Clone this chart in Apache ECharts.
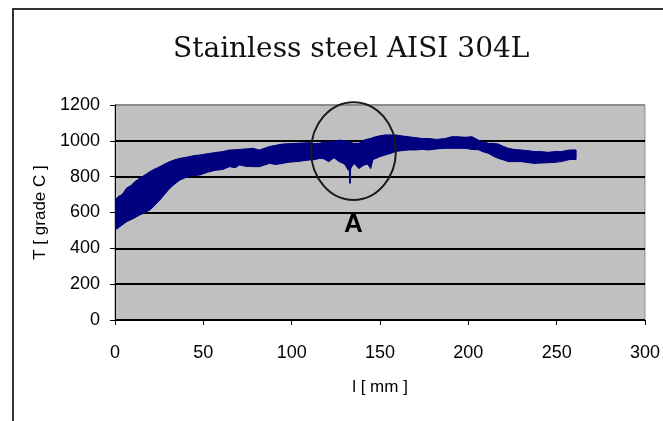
<!DOCTYPE html>
<html>
<head>
<meta charset="utf-8">
<script src="https://cdn.jsdelivr.net/npm/echarts@6/dist/echarts.min.js"></script>
<style>
  html, body { margin: 0; padding: 0; background: #fff; }
  #chart { width: 663px; height: 421px; }
</style>
</head>
<body>
<div id="chart"></div>
<script>
// position along the weld [mm]
const posMm = [
  0, 2, 4, 6.6, 9, 11, 14, 17, 19.7, 22, 25.4, 28, 31, 34, 36.7, 40, 42.3, 45, 48, 51,
  53.6, 57, 61, 64.8, 68, 70.5, 74, 78, 81.8, 85, 87.4, 91, 94.7, 98, 102.6, 106, 110, 113,
  115.6, 118, 121, 124, 126.9, 130, 132, 132.6, 133, 133.4, 135.3, 138, 141, 143, 144.7, 146,
  147.6, 150, 153, 156, 158.8, 162, 166, 170, 174, 177.6, 182, 187, 190.6, 194, 198.3, 202,
  205.8, 208, 211.5, 214, 217, 220, 222.7, 226, 230, 234, 237.8, 241, 245.3, 249, 252.6,
  255, 257.5, 261
];
// lower edge of the measured temperature band [grade C]
const tempLow = [
  502, 515, 530, 549, 560, 570, 586, 600, 614, 635, 670, 700, 735, 760, 781, 795, 804, 806, 809, 820,
  828, 836, 840, 856, 850, 865, 858, 856, 856, 866, 874, 868, 874, 880, 884, 888, 893, 895,
  902, 900, 884, 905, 884, 870, 837, 840, 763, 845, 874, 846, 865, 870, 846, 895,
  902, 912, 921, 930, 940, 945, 949, 949, 952, 949, 955, 958, 958, 958, 958, 952,
  950, 940, 930, 915, 902, 893, 884, 884, 884, 878, 874, 876, 878, 880, 884,
  890, 896, 896
];
// upper edge of the measured temperature band [grade C]
const tempHigh = [
  670, 690, 700, 737, 750, 770, 792, 810, 828, 840, 856, 870, 884, 895, 902, 908, 912, 918, 921, 926,
  930, 935, 940, 949, 950, 952, 955, 958, 949, 960, 968, 975, 982, 984, 986, 988, 990, 984,
  986, 992, 995, 995, 1004, 1000, 995, 995, 995, 990, 986, 986, 1004, 1010, 1013, 1018,
  1023, 1028, 1033, 1033, 1033, 1028, 1023, 1018, 1013, 1013, 1008, 1013, 1023, 1023, 1020, 1023,
  1004, 995, 986, 986, 982, 968, 958, 952, 949, 945, 940, 940, 936, 940, 940,
  945, 949, 949
];

const xTicks = [0, 50, 100, 150, 200, 250, 300];
const yTicks = [0, 200, 400, 600, 800, 1000, 1200];

// marked region "A"
const markA = { x: 135, y: 943, rx: 24, ry: 273, labelY: 530 };

const chart = echarts.init(document.getElementById('chart'));

const bandData = posMm.map((x, i) => [x, tempLow[i], tempHigh[i]]);

const frame = {
  type: 'rect',
  silent: true,
  shape: { x: 13, y: 9, width: 700, height: 500 },
  style: { fill: 'none', stroke: '#333', lineWidth: 2 }
};

const option = {
  animation: false,
  backgroundColor: '#fff',
  title: {
    text: 'Stainless steel AISI 304L',
    left: 168,
    top: 31,
    textStyle: { fontFamily: 'DejaVu Serif', fontSize: 28, fontWeight: 'normal', color: '#111' }
  },
  grid: {
    left: 115, right: 16, top: 105, bottom: 101,
    show: true,
    backgroundColor: '#c0c0c0',
    borderColor: '#8c8c8c',
    borderWidth: 1
  },
  xAxis: {
    type: 'value',
    min: xTicks[0],
    max: xTicks[xTicks.length - 1],
    interval: 50,
    name: 'l [ mm ]',
    nameLocation: 'middle',
    nameGap: 59,
    nameTextStyle: { fontFamily: 'Liberation Sans', fontSize: 17, color: '#000' },
    axisLine: { lineStyle: { color: '#000', width: 1 } },
    axisTick: { show: true, inside: false, length: 5, lineStyle: { color: '#000' } },
    axisLabel: { margin: 24, fontFamily: 'Liberation Sans', fontSize: 18, color: '#000', formatter: v => String(v) },
    splitLine: { show: false }
  },
  yAxis: {
    type: 'value',
    min: yTicks[0],
    max: yTicks[yTicks.length - 1],
    interval: 200,
    name: 'T [ grade C ]',
    nameLocation: 'middle',
    nameGap: 59,
    nameTextStyle: { fontFamily: 'Liberation Sans', fontSize: 17, color: '#000' },
    axisLine: { show: true, lineStyle: { color: '#000', width: 1 } },
    axisTick: { show: true, inside: false, length: 5, lineStyle: { color: '#000' } },
    axisLabel: { margin: 15, fontFamily: 'Liberation Sans', fontSize: 18, color: '#000', formatter: v => String(v) },
    splitLine: {
      show: true,
      lineStyle: { color: ['#000', '#000', '#000', '#000', '#000', '#000', '#8c8c8c'], width: 2 }
    }
  },
  graphic: [frame],
  series: [{
    type: 'custom',
    name: 'T',
    data: bandData,
    encode: { x: 0, y: [1, 2] },
    clip: true,
    renderItem: (params, api) => {
      const i = params.dataIndex;
      if (i >= bandData.length - 1) return null;
      const a = bandData[i], b = bandData[i + 1];
      const pts = [
        api.coord([a[0], a[2]]),
        api.coord([b[0], b[2]]),
        api.coord([b[0], b[1]]),
        api.coord([a[0], a[1]])
      ];
      return {
        type: 'polygon',
        shape: { points: pts },
        style: { fill: '#000080', stroke: '#000080', lineWidth: 1 }
      };
    }
  }]
};

chart.setOption(option);

// ellipse and label around region A, placed through the axis scales
const c = chart.convertToPixel({ gridIndex: 0 }, [markA.x, markA.y]);
const ex = chart.convertToPixel({ gridIndex: 0 }, [markA.x + markA.rx, markA.y + markA.ry]);
const lab = chart.convertToPixel({ gridIndex: 0 }, [markA.x, markA.labelY]);
chart.setOption({
  graphic: [
    frame,
    {
      type: 'ellipse',
      silent: true,
      z: 10,
      shape: { cx: c[0], cy: c[1], rx: ex[0] - c[0], ry: c[1] - ex[1] },
      style: { fill: 'none', stroke: '#1a1a1a', lineWidth: 2 }
    },
    {
      type: 'text',
      silent: true,
      z: 10,
      x: lab[0],
      y: lab[1],
      style: {
        text: 'A',
        fontFamily: 'Liberation Sans',
        fontWeight: 'bold',
        fontSize: 26,
        fill: '#000',
        align: 'center',
        verticalAlign: 'middle'
      }
    }
  ]
});
</script>
</body>
</html>
